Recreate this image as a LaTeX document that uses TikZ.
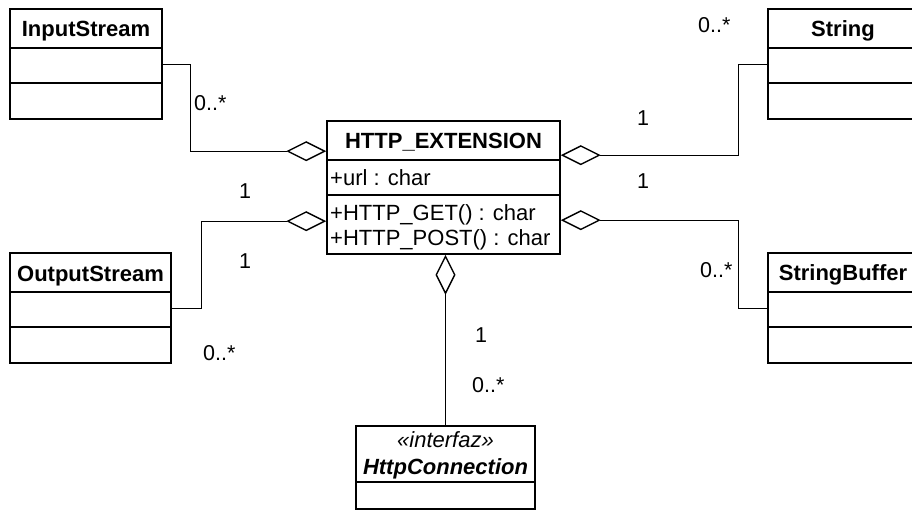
\documentclass[tikz,border=0pt]{standalone}
\usepackage{fontspec}
\setmainfont{Liberation Sans}
\usetikzlibrary{arrows.meta}
\begin{document}
\begin{tikzpicture}[x=1pt,y=-1pt,
  classbox/.style={draw, line width=1.6pt, inner sep=0pt, fill=white},
  divider/.style={line width=1.6pt},
  title/.style={font=\fontsize{22}{25}\selectfont\bfseries, anchor=base, inner sep=0pt},
  member/.style={font=\fontsize{22}{25}\selectfont, anchor=base west, inner sep=0pt},
  mult/.style={font=\fontsize{21.5}{25}\selectfont, anchor=base west, inner sep=0pt},
  agg/.style={line width=0.9pt, -{Diamond[open, length=40pt, width=20pt, line width=1.4pt]}}]
\clip (0,0) rectangle (912,520);
\fill[white] (0,0) rectangle (912,520);

% class boxes
\node[classbox, minimum width=152pt, minimum height=110pt] (inp) at (86,64) {};
\node[classbox, minimum width=150pt, minimum height=110pt] (str) at (843,64) {};
\node[classbox, minimum width=161pt, minimum height=110pt] (out) at (90.5,308) {};
\node[classbox, minimum width=150pt, minimum height=110pt] (sb) at (843,308) {};
\node[classbox, minimum width=233pt, minimum height=133pt] (http) at (443.5,187.5) {};
\node[classbox, minimum width=179pt, minimum height=83pt] (hc) at (445.5,467.5) {};

% compartments
\foreach \n in {inp,str,out,sb,http}{
  \draw[divider] ([yshift=-40pt]\n.north west) -- ([yshift=-40pt]\n.north east);
  \draw[divider] ([yshift=-75pt]\n.north west) -- ([yshift=-75pt]\n.north east);
}
\draw[divider] ([yshift=-57pt]hc.north west) -- ([yshift=-57pt]hc.north east);

% names and members
\node[title] (inpT) at (86,36) {InputStream};
\node[title] (strT) at (843,36) {String};
\node[title] (outT) at (90.5,281) {OutputStream};
\node[title] (sbT) at (843,280) {StringBuffer};
\node[title] (httpT) at (443.5,148) {HTTP\_EXTENSION};
\node[member] (url) at (330,185) {+url : char};
\node[member] (get) at (330,220) {+HTTP\_GET() : char};
\node[member] (post) at (330,245) {+HTTP\_POST() : char};
\node[font=\fontsize{22}{25}\selectfont\itshape, anchor=base, inner sep=0pt] (st) at (445.5,447) {«interfaz»};
\node[font=\fontsize{22}{25}\selectfont\bfseries\itshape, anchor=base, inner sep=0pt] (hcT) at (445.5,474) {HttpConnection};

% aggregations into HTTP_EXTENSION
\draw[agg] (inp.east) -- ++(28,0) |- ([yshift=-31pt]http.north west);
\draw[agg] (out.east) -- ++(30,0) |- ([yshift=-101pt]http.north west);
\draw[agg] (str.west) -- ++(-29,0) |- ([yshift=-35pt]http.north east);
\draw[agg] (sb.west) -- ++(-29,0) |- ([yshift=-100pt]http.north east);
\draw[agg] (hc.north) -- (hc.north |- http.south);

% multiplicities
\node[mult] (m1) at (194,110) {0..*};
\node[mult] (m2) at (239,198) {1};
\node[mult] (m3) at (239,268) {1};
\node[mult] (m4) at (203,360) {0..*};
\node[mult] (m5) at (698,32) {0..*};
\node[mult] (m6) at (637,125) {1};
\node[mult] (m7) at (637,188) {1};
\node[mult] (m8) at (700,277) {0..*};
\node[mult] (m9) at (475,342) {1};
\node[mult] (m10) at (472,392) {0..*};
\end{tikzpicture}
\end{document}
